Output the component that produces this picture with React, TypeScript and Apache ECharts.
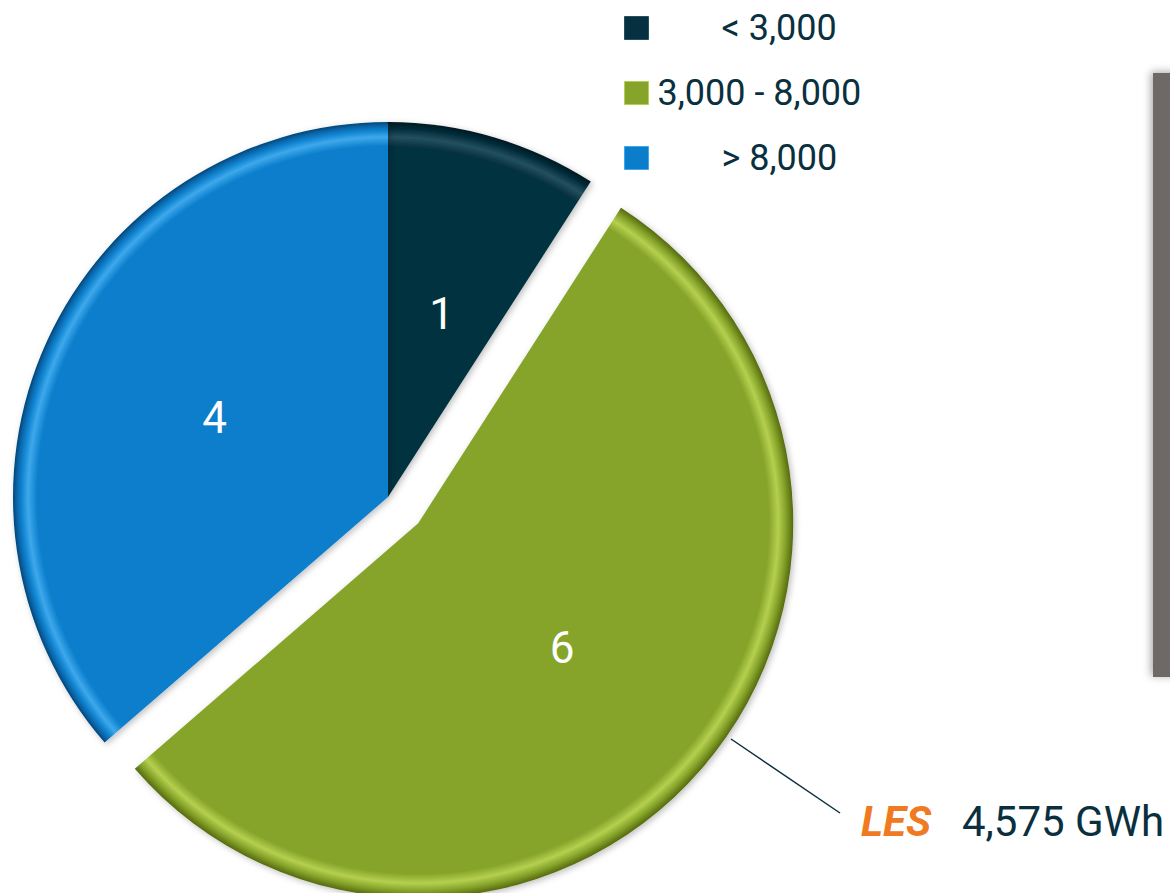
import React, { useEffect, useRef } from "react";
import * as echarts from "echarts";

const categories = ["< 3,000", "3,000 - 8,000", "> 8,000"];
const values = [1, 6, 4];
const baseColors = ["#06303f", "#86a42a", "#0a7ecb"];
const highlightColors = ["#24505f", "#b5d04f", "#3ea8ec"];
const edgeColors = ["#021820", "#55690f", "#05487d"];
const selectedIndex = 1;
const annotationName = "LES";
const annotationValue = "4,575 GWh";

const CX = 388;
const CY = 497;
const R = 375;

export default function App() {
  const ref = useRef<HTMLDivElement>(null);
  useEffect(() => {
    if (!ref.current) return;
    const chart = echarts.init(ref.current, null, { renderer: "svg" });
    const grad = (i: number) => ({
      type: "radial",
      x: CX,
      y: CY,
      r: R,
      global: true,
      colorStops: [
        { offset: 0, color: baseColors[i] },
        { offset: 0.935, color: baseColors[i] },
        { offset: 0.96, color: highlightColors[i] },
        { offset: 0.98, color: baseColors[i] },
        { offset: 1, color: edgeColors[i] },
      ],
    });
    chart.setOption({
      animation: false,
      legend: {
        orient: "vertical",
        left: 619,
        top: 5,
        itemWidth: 24,
        itemHeight: 23,
        itemGap: 29,
        icon: "rect",
        selectedMode: false,
        data: categories.map((c, i) => ({
          name: c,
          itemStyle: { color: baseColors[i], borderColor: highlightColors[i], borderWidth: 1 },
        })),
        formatter: (name: string) =>
          name === categories[1] ? `{a|${name}}` : `{b|${name}}`,
        textStyle: {
          rich: {
            a: { fontSize: 36, color: "#0a3040", fontFamily: "Roboto", padding: [0, 0, 0, 4] },
            b: { fontSize: 36, color: "#0a3040", fontFamily: "Roboto", padding: [0, 0, 0, 68] },
          },
        },
      },
      series: [
        {
          type: "pie",
          center: [CX, CY],
          radius: [0, R],
          startAngle: 90,
          clockwise: true,
          selectedMode: "single",
          selectedOffset: 40,
          avoidLabelOverlap: false,
          emphasis: { disabled: true },
          label: {
            show: true,
            position: "inside",
            formatter: "{c}",
            color: "#ffffff",
            fontSize: 44,
            fontFamily: "Roboto",
          },
          labelLine: { show: false },
          itemStyle: {
            borderWidth: 0,
            shadowBlur: 6,
            shadowColor: "rgba(0,0,0,0.25)",
            shadowOffsetX: 2,
            shadowOffsetY: 2,
          },
          data: categories.map((c, i) => ({
            name: c,
            value: values[i],
            selected: i === selectedIndex,
            itemStyle: { color: grad(i) },
          })),
        },
      ],
      graphic: [
        {
          type: "rect",
          shape: { x: 1153, y: 73, width: 40, height: 604 },
          style: {
            fill: "#6e6866",
            shadowBlur: 8,
            shadowColor: "rgba(0,0,0,0.35)",
            shadowOffsetX: -2,
            shadowOffsetY: -1,
          },
        },
        {
          type: "line",
          shape: { x1: 731, y1: 739, x2: 840, y2: 813 },
          style: { stroke: "#0a3040", lineWidth: 1.5 },
        },
        {
          type: "text",
          x: 861,
          y: 821,
          style: {
            text: annotationName,
            fill: "#f07a22",
            font: "italic bold 42px Roboto",
            verticalAlign: "middle",
          },
        },
        {
          type: "text",
          x: 962,
          y: 821,
          style: {
            text: annotationValue,
            fill: "#0a3040",
            font: "42px Roboto",
            verticalAlign: "middle",
          },
        },
      ],
    });
    return () => chart.dispose();
  }, []);
  return (
    <div
      ref={ref}
      style={{ position: "fixed", left: 0, top: 0, width: 1170, height: 893, background: "#ffffff" }}
    />
  );
}
